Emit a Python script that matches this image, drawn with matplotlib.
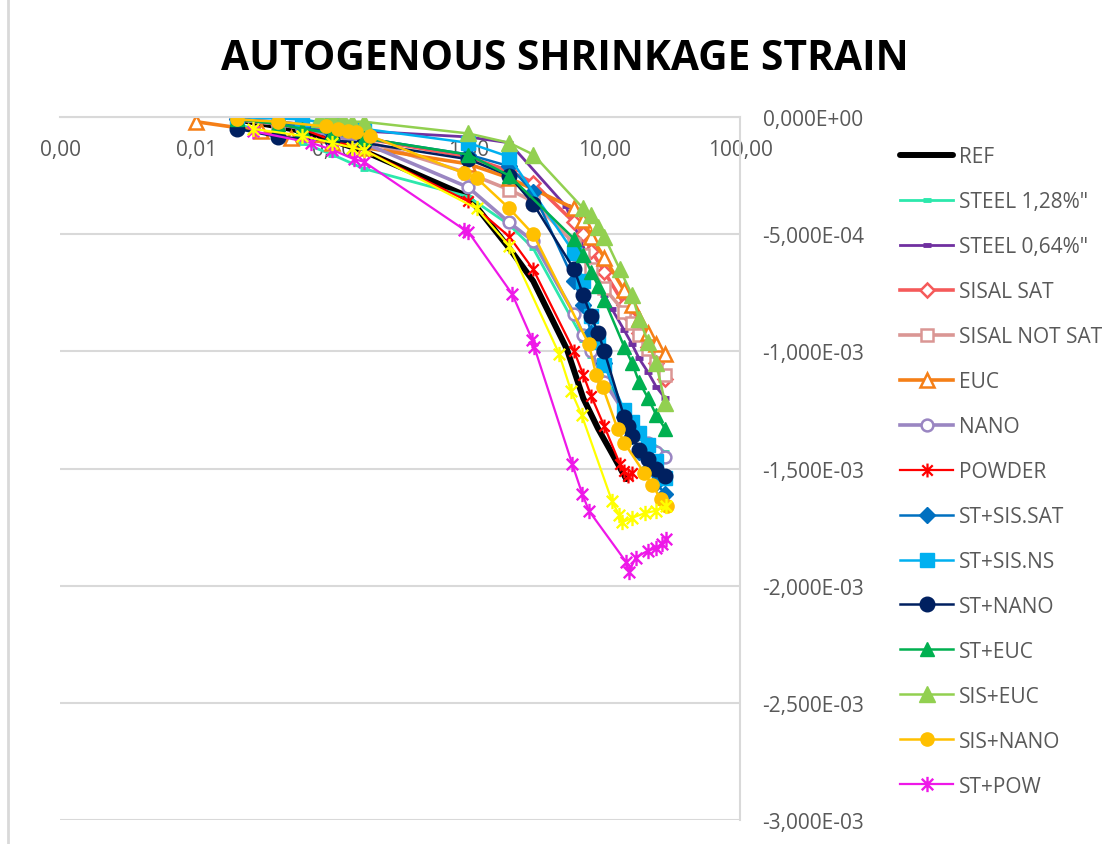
import matplotlib
matplotlib.use('Agg')
import matplotlib.pyplot as plt
from matplotlib.path import Path
from matplotlib.lines import Line2D

plt.rcParams['font.family'] = ['Open Sans', 'DejaVu Sans']

# data (age in days, strain)
ref_x = [0.02, 0.04, 0.06, 0.1, 0.17, 1, 2, 3, 5.3, 7, 9, 11, 14.5]
ref_y = [-1e-5, -4e-5, -6e-5, -1.0e-4, -1.45e-4, -3.4e-4, -5.6e-4, -7.0e-4, -9.9e-4, -1.2e-3, -1.33e-3, -1.42e-3, -1.545e-3]

st128_x = [0.02, 0.04, 0.06, 0.1, 0.17, 1, 2, 3, 7, 8, 14, 21, 28]
st128_y = [-3e-5, -8e-5, -1.1e-4, -1.6e-4, -2.2e-4, -3.4e-4, -4.6e-4, -5.6e-4, -9.5e-4, -1.02e-3, -1.25e-3, -1.38e-3, -1.43e-3]

st064_x = [0.02, 0.04, 0.06, 0.1, 0.17, 1, 2, 5.2, 8, 10, 11.4, 14, 16, 18, 21, 24, 28]
st064_y = [-1e-5, -2e-5, -3e-5, -5e-5, -6e-5, -8.5e-5, -1.1e-4, -3.8e-4, -6.3e-4, -7.6e-4, -8.2e-4, -9.1e-4, -9.7e-4, -1.03e-3, -1.09e-3, -1.15e-3, -1.2e-3]

sisal_sat_x = [0.02, 0.04, 0.1, 0.17, 1, 2, 3, 6, 7, 8, 10, 14, 16, 18, 21, 24, 28]
sisal_sat_y = [-1e-5, -3e-5, -6e-5, -9e-5, -1.7e-4, -2.3e-4, -2.8e-4, -4.5e-4, -5.0e-4, -5.7e-4, -6.6e-4, -8.0e-4, -8.6e-4, -9.2e-4, -9.8e-4, -1.05e-3, -1.12e-3]

sisal_ns_x = [0.02, 0.04, 0.1, 0.17, 1, 2, 3, 6, 7, 8, 10, 14, 16, 18, 21, 24, 28]
sisal_ns_y = [-1e-5, -3e-5, -7e-5, -1.0e-4, -2.4e-4, -3.1e-4, -3.6e-4, -5.4e-4, -5.9e-4, -6.5e-4, -7.3e-4, -8.3e-4, -8.8e-4, -9.3e-4, -9.9e-4, -1.05e-3, -1.1e-3]

euc_x = [0.01, 0.03, 0.05, 0.1, 0.17, 1, 2, 6, 7, 8, 10, 14, 16, 18, 21, 24, 28]
euc_y = [-2e-5, -6e-5, -9e-5, -1.1e-4, -1.3e-4, -2.0e-4, -2.6e-4, -3.9e-4, -4.4e-4, -5.1e-4, -6.0e-4, -7.4e-4, -8.0e-4, -8.6e-4, -9.2e-4, -9.7e-4, -1.01e-3]

nano_x = [0.02, 0.04, 0.06, 0.1, 0.17, 1, 2, 3, 6, 7, 8, 10, 14, 16, 18, 21, 24, 28]
nano_y = [-1e-5, -3e-5, -5e-5, -8e-5, -1.1e-4, -3.0e-4, -4.5e-4, -5.3e-4, -8.4e-4, -9.3e-4, -1.0e-3, -1.13e-3, -1.26e-3, -1.31e-3, -1.35e-3, -1.39e-3, -1.43e-3, -1.45e-3]

powder_x = [0.02, 0.04, 0.06, 0.1, 0.17, 1, 2, 3, 6, 7, 8, 10, 13, 14, 15, 16]
powder_y = [-1e-5, -3e-5, -5e-5, -1.0e-4, -1.4e-4, -3.6e-4, -5.1e-4, -6.5e-4, -1.0e-3, -1.1e-3, -1.19e-3, -1.32e-3, -1.48e-3, -1.51e-3, -1.53e-3, -1.52e-3]

st_ssat_x = [0.02, 0.04, 0.06, 0.1, 0.17, 1, 2, 3, 6, 7, 8, 10, 14, 16, 18, 21, 24, 28]
st_ssat_y = [-1e-5, -2e-5, -4e-5, -7e-5, -9e-5, -1.6e-4, -2.1e-4, -3.2e-4, -7.0e-4, -8.0e-4, -9.2e-4, -1.05e-3, -1.28e-3, -1.36e-3, -1.43e-3, -1.5e-3, -1.56e-3, -1.61e-3]

st_sns_x = [0.02, 0.06, 0.1, 0.17, 1, 2, 6, 7, 8, 9, 10, 14, 16, 18, 21, 24, 28]
st_sns_y = [0, -1e-5, -3e-5, -5e-5, -1.1e-4, -1.7e-4, -5.8e-4, -7.0e-4, -8.5e-4, -9.6e-4, -1.06e-3, -1.25e-3, -1.3e-3, -1.35e-3, -1.4e-3, -1.47e-3, -1.54e-3]

st_nano_x = [0.02, 0.04, 0.1, 0.17, 1, 2, 3, 6, 7, 8, 9, 10, 14, 15, 16, 18, 21, 24, 28]
st_nano_y = [-5e-5, -8.5e-5, -1.0e-4, -1.1e-4, -1.8e-4, -2.5e-4, -3.7e-4, -6.5e-4, -7.6e-4, -8.5e-4, -9.2e-4, -1.0e-3, -1.28e-3, -1.32e-3, -1.36e-3, -1.42e-3, -1.46e-3, -1.5e-3, -1.53e-3]

st_euc_x = [0.02, 0.04, 0.06, 0.1, 0.17, 1, 2, 6, 7, 8, 9, 10, 14, 16, 18, 21, 24, 28]
st_euc_y = [-1e-5, -3e-5, -5e-5, -7e-5, -9e-5, -1.6e-4, -2.5e-4, -5.2e-4, -5.9e-4, -6.6e-4, -7.2e-4, -7.8e-4, -9.8e-4, -1.05e-3, -1.13e-3, -1.2e-3, -1.27e-3, -1.33e-3]

sis_euc_x = [0.08, 0.1, 0.12, 0.14, 0.17, 1, 2, 3, 7, 8, 9, 10, 13, 16, 18, 21, 24, 28]
sis_euc_y = [-1e-5, -1e-5, -1e-5, -2e-5, -2e-5, -7e-5, -1.1e-4, -1.6e-4, -3.9e-4, -4.2e-4, -4.7e-4, -5.1e-4, -6.5e-4, -7.6e-4, -8.6e-4, -9.6e-4, -1.05e-3, -1.22e-3]

sis_nano_x = [0.02, 0.04, 0.09, 0.11, 0.13, 0.15, 0.19, 0.93, 1.15, 2, 3, 7.7, 8.7, 9.7, 12.5, 14, 19.7, 22.5, 26, 29]
sis_nano_y = [-1e-5, -2e-5, -4e-5, -5e-5, -6e-5, -6.5e-5, -8e-5, -2.4e-4, -2.6e-4, -3.9e-4, -5.0e-4, -9.7e-4, -1.1e-3, -1.15e-3, -1.33e-3, -1.39e-3, -1.52e-3, -1.57e-3, -1.63e-3, -1.66e-3]

st_pow_x = [0.026, 0.07, 0.1, 0.145, 0.17, 0.93, 1.0, 2.1, 2.95, 3.05, 5.8, 6.9, 7.7, 14.5, 15.2, 17, 21, 24, 26.7, 28.5]
st_pow_y = [-6e-5, -1.1e-4, -1.4e-4, -1.8e-4, -1.9e-4, -4.8e-4, -4.9e-4, -7.55e-4, -9.5e-4, -9.8e-4, -1.48e-3, -1.61e-3, -1.68e-3, -1.9e-3, -1.94e-3, -1.88e-3, -1.85e-3, -1.84e-3, -1.82e-3, -1.8e-3]

yel_x = [0.026, 0.06, 0.1, 0.14, 0.17, 1.15, 2, 4.65, 5.7, 6.8, 11.4, 12.9, 13.5, 16, 20, 24, 28.5]
yel_y = [-5e-5, -8e-5, -1.1e-4, -1.3e-4, -1.4e-4, -3.9e-4, -5.5e-4, -1.01e-3, -1.17e-3, -1.27e-3, -1.64e-3, -1.70e-3, -1.73e-3, -1.71e-3, -1.69e-3, -1.68e-3, -1.66e-3]

x_ticks = [0.001, 0.01, 0.1, 1, 10, 100]
x_tick_labels = ['0,00', '0,01', '0,10', '1,00', '10,00', '100,00']
y_ticks = [0, -5e-4, -1e-3, -1.5e-3, -2e-3, -2.5e-3, -3e-3]
y_tick_labels = ['0,000E+00', '-5,000E-04', '-1,000E-03', '-1,500E-03', '-2,000E-03', '-2,500E-03', '-3,000E-03']

star = Path([(0, -1), (0, 1), (-0.75, -0.75), (0.75, 0.75), (-0.75, 0.75), (0.75, -0.75)],
            [Path.MOVETO, Path.LINETO] * 3)

fig = plt.figure(figsize=(11.15, 8.45), dpi=100)
ax = fig.add_axes([0.054, 0.0284, 0.61, 0.8319])

ax.plot(ref_x, ref_y, color='black', lw=4.3, label='REF', solid_capstyle='round')
ax.plot(st128_x, st128_y, color='#2CE8AC', lw=2, marker='_', ms=6, mew=3.5, label='STEEL 1,28%"')
ax.plot(st064_x, st064_y, color='#7030A0', lw=2, marker='_', ms=6, mew=3.5, label='STEEL 0,64%"')
ax.plot(sisal_sat_x, sisal_sat_y, color='#F55A5A', lw=2.6, marker='D', ms=7.5, mew=1.8, mfc='white', label='SISAL SAT')
ax.plot(sisal_ns_x, sisal_ns_y, color='#DA9694', lw=2.6, marker='s', ms=8.5, mew=1.8, mfc='white', label='SISAL NOT SAT')
ax.plot(euc_x, euc_y, color='#F57F17', lw=2.6, marker='^', ms=9.5, mew=1.8, mfc='white', label='EUC')
ax.plot(nano_x, nano_y, color='#9A86C2', lw=2.6, marker='o', ms=8.5, mew=1.8, mfc='white', label='NANO')
ax.plot(powder_x, powder_y, color='#FF0000', lw=1.6, marker=star, ms=10, mew=1.6, label='POWDER')
ax.plot(st_ssat_x, st_ssat_y, color='#0070C0', lw=1.8, marker='D', ms=8.5, label='ST+SIS.SAT')
ax.plot(st_sns_x, st_sns_y, color='#00B0F0', lw=1.8, marker='s', ms=9.5, label='ST+SIS.NS')
ax.plot(st_nano_x, st_nano_y, color='#002060', lw=1.8, marker='o', ms=10.5, label='ST+NANO')
ax.plot(st_euc_x, st_euc_y, color='#00B050', lw=1.8, marker='^', ms=10, label='ST+EUC')
ax.plot(sis_euc_x, sis_euc_y, color='#92D050', lw=1.8, marker='^', ms=11, label='SIS+EUC')
ax.plot(sis_nano_x, sis_nano_y, color='#FFC000', lw=1.8, marker='o', ms=9.5, label='SIS+NANO')
ax.plot(st_pow_x, st_pow_y, color='#EE18E8', lw=1.6, marker=star, ms=11, mew=1.7, label='ST+POW')
ax.plot(yel_x, yel_y, color='#FFFF00', lw=1.6, marker=star, ms=11, mew=1.7, label='_nolegend_')

ax.set_xscale('log')
ax.set_xlim(0.001, 100)
ax.set_ylim(-3e-3, 0)
ax.minorticks_off()
ax.set_xticks(x_ticks)
ax.set_xticklabels(x_tick_labels)
ax.set_yticks(y_ticks)
ax.set_yticklabels(y_tick_labels)
ax.yaxis.tick_right()
ax.tick_params(axis='both', length=0, labelsize=15, labelcolor='#595959')
ax.tick_params(axis='y', pad=16)
ax.tick_params(axis='x', pad=16)
ax.grid(axis='y', color='#D9D9D9', lw=1.5)
ax.set_axisbelow(True)

for s in ['top', 'left']:
    ax.spines[s].set_visible(False)
ax.spines['bottom'].set_position(('data', 0))
ax.spines['bottom'].set_color('#D9D9D9')
ax.spines['bottom'].set_linewidth(1.5)
ax.spines['right'].set_color('#D9D9D9')
ax.spines['right'].set_linewidth(1.5)

fig.text(0.507, 0.929, 'AUTOGENOUS SHRINKAGE STRAIN', ha='center', va='center',
         fontsize=29.3, fontweight='bold', color='black')

fig.add_artist(Line2D([0.007, 0.007], [0, 1], transform=fig.transFigure, color='#D9D9D9', lw=2))

leg = fig.legend(loc='upper left', bbox_to_anchor=(0.7906, 0.848), frameon=False,
                 fontsize=15, labelspacing=1.15, handlelength=2.55, handletextpad=0.25)
for t in leg.get_texts():
    t.set_color('#595959')

fig.savefig('out.png', dpi=100)
